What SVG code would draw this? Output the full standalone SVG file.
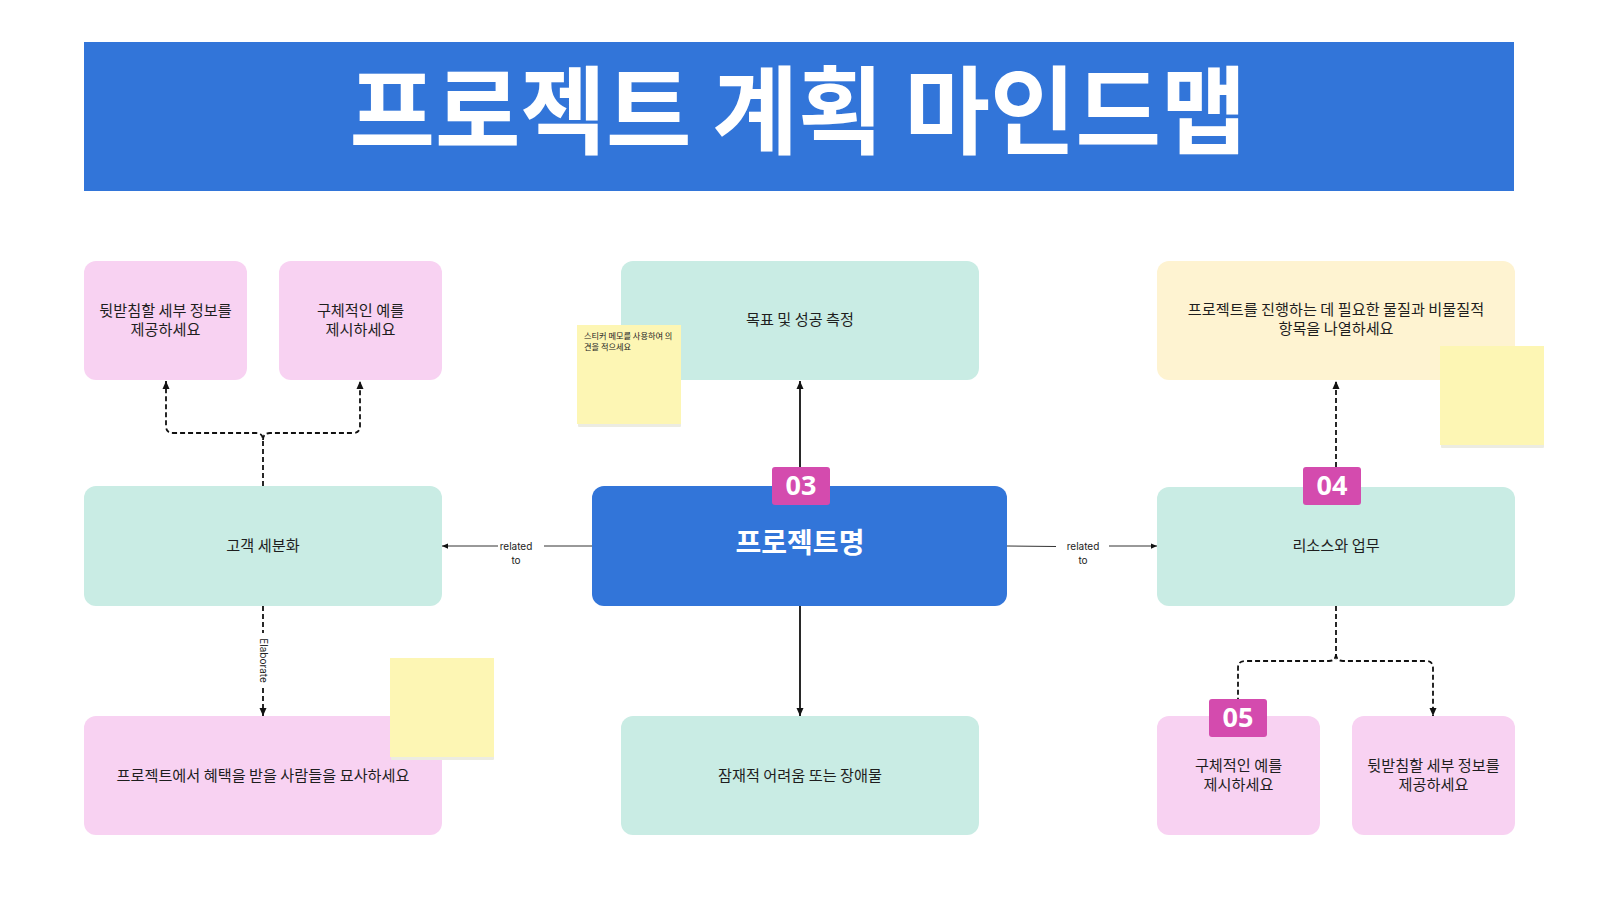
<svg xmlns="http://www.w3.org/2000/svg" width="1600" height="900" viewBox="0 0 1600 900">
<style>
.kr{font-family:"Noto Sans CJK KR","Noto Sans",sans-serif;}
.lbl{font-family:Inter,"Liberation Sans",sans-serif;font-size:10px;fill:#222;text-anchor:middle;}
.nt{font-family:"Noto Sans CJK KR",sans-serif;font-size:15.2px;fill:#1e1e1e;text-anchor:middle;}
.teal{fill:#C9ECE4;}
.pink{fill:#F8D2F2;}
.cream{fill:#FEF3D1;}
.sticky{fill:#FDF6B4;}
.shadow{fill:#ECECE2;}
.badge{fill:#D44BAE;}
.bt{font-family:"Open Sans","Noto Sans",sans-serif;font-weight:700;font-size:27px;fill:#fff;text-anchor:middle;}
.solid{fill:none;stroke:#111;stroke-width:1.8;}
.thin{fill:none;stroke:#333;stroke-width:1;}
.dash{fill:none;stroke:#111;stroke-width:1.8;stroke-dasharray:5 3;}
</style>
<defs>
<marker id="ah" viewBox="0 0 8 8" refX="8" refY="4" markerWidth="8" markerHeight="8" markerUnits="userSpaceOnUse" orient="auto">
<path d="M0,0.5 L8,4 L0,7.5 Z" fill="#111"/>
</marker>
<marker id="ahs" viewBox="0 0 8 8" refX="8" refY="4" markerWidth="6" markerHeight="6" markerUnits="userSpaceOnUse" orient="auto">
<path d="M0,0.5 L8,4 L0,7.5 Z" fill="#111"/>
</marker>
</defs>
<rect width="1600" height="900" fill="#fff"/>

<g id="header">
<rect x="84" y="42" width="1430" height="149" fill="#3275D9"/>
<text x="798" y="146" class="kr" font-size="96" font-weight="700" fill="#fff" text-anchor="middle" textLength="897" lengthAdjust="spacingAndGlyphs">프로젝트 계획 마인드맵</text>
</g>

<g id="connectors">
<path class="dash" d="M263,486 V440 Q263,433 256,433 H173 Q166,433 166,426 V381" marker-end="url(#ah)"/>
<path class="dash" d="M263,440 Q263,433 270,433 H353 Q360,433 360,426 V381" marker-end="url(#ah)"/>
<path class="dash" d="M263,606 V633"/>
<path class="dash" d="M263,688 V716" marker-end="url(#ah)"/>
<path class="solid" d="M800,467 V381" marker-end="url(#ah)"/>
<path class="solid" d="M800,606 V716" marker-end="url(#ah)"/>
<path class="thin" d="M592,546 H544"/>
<path class="thin" d="M498,546 H442" marker-end="url(#ahs)"/>
<path class="thin" d="M1007,546 L1056,546.5"/>
<path class="thin" d="M1109,546 H1157" marker-end="url(#ahs)"/>
<path class="dash" d="M1336,467 V381" marker-end="url(#ah)"/>
<path class="dash" d="M1336,606 V654 Q1336,661 1329,661 H1245 Q1238,661 1238,668 V699"/>
<path class="dash" d="M1336,654 Q1336,661 1343,661 H1426 Q1433,661 1433,668 V716" marker-end="url(#ah)"/>
<text class="lbl" x="516" y="549.5">related</text>
<text class="lbl" x="516" y="563.5">to</text>
<text class="lbl" x="1083" y="549.5">related</text>
<text class="lbl" x="1083" y="563.5">to</text>
<text class="lbl" transform="translate(263,660.5) rotate(90)" y="3.5">Elaborate</text>
</g>

<g id="node-detail-tl">
<rect class="pink" x="84" y="261" width="163" height="119" rx="12"/>
<text class="nt" x="165.5" y="316">뒷받침할 세부 정보를</text>
<text class="nt" x="165.5" y="335">제공하세요</text>
</g>
<g id="node-example-tl">
<rect class="pink" x="279" y="261" width="163" height="119" rx="12"/>
<text class="nt" x="360.5" y="316">구체적인 예를</text>
<text class="nt" x="360.5" y="335">제시하세요</text>
</g>
<g id="node-segment">
<rect class="teal" x="84" y="486" width="358" height="120" rx="12"/>
<text class="nt" x="263" y="551">고객 세분화</text>
</g>
<g id="node-beneficiaries">
<rect class="pink" x="84" y="716" width="358" height="119" rx="12"/>
<text class="nt" x="263" y="781">프로젝트에서 혜택을 받을 사람들을 묘사하세요</text>
</g>
<g id="node-goals">
<rect class="teal" x="621" y="261" width="358" height="119" rx="12"/>
<text class="nt" x="800" y="325">목표 및 성공 측정</text>
</g>
<g id="node-center">
<rect x="592" y="486" width="415" height="120" rx="12" fill="#3275D9"/>
<text class="kr" x="800" y="553" font-size="28" font-weight="700" fill="#fff" text-anchor="middle">프로젝트명</text>
</g>
<g id="badge-03">
<rect class="badge" x="772" y="467" width="58" height="38" rx="3"/>
<text class="bt" x="801" y="494.5">03</text>
</g>
<g id="node-obstacles">
<rect class="teal" x="621" y="716" width="358" height="119" rx="12"/>
<text class="nt" x="800" y="781">잠재적 어려움 또는 장애물</text>
</g>
<g id="node-materials">
<rect class="cream" x="1157" y="261" width="358" height="119" rx="12"/>
<text class="nt" x="1336" y="315">프로젝트를 진행하는 데 필요한 물질과 비물질적</text>
<text class="nt" x="1336" y="334">항목을 나열하세요</text>
</g>
<g id="node-resources">
<rect class="teal" x="1157" y="487" width="358" height="119" rx="12"/>
<text class="nt" x="1336" y="551">리소스와 업무</text>
</g>
<g id="badge-04">
<rect class="badge" x="1303" y="467" width="58" height="38" rx="3"/>
<text class="bt" x="1332" y="494.5">04</text>
</g>
<g id="node-example-br">
<rect class="pink" x="1157" y="716" width="163" height="119" rx="12"/>
<text class="nt" x="1238.5" y="771">구체적인 예를</text>
<text class="nt" x="1238.5" y="790">제시하세요</text>
</g>
<g id="badge-05">
<rect class="badge" x="1209" y="699" width="58" height="38" rx="3"/>
<text class="bt" x="1238" y="726.5">05</text>
</g>
<g id="node-detail-br">
<rect class="pink" x="1352" y="716" width="163" height="119" rx="12"/>
<text class="nt" x="1433.5" y="771">뒷받침할 세부 정보를</text>
<text class="nt" x="1433.5" y="790">제공하세요</text>
</g>

<g id="sticky-center">
<rect class="shadow" x="578" y="326" width="103" height="101" rx="1"/>
<rect class="sticky" x="577" y="325" width="104" height="99"/>
<text class="kr" x="584" y="339" font-size="8.2" fill="#222">스티커 메모를 사용하여 의</text>
<text class="kr" x="584" y="350" font-size="8.2" fill="#222">견을 적으세요</text>
</g>
<g id="sticky-right">
<rect class="shadow" x="1441" y="347" width="103" height="101" rx="1"/>
<rect class="sticky" x="1440" y="346" width="104" height="99"/>
</g>
<g id="sticky-left">
<rect class="shadow" x="391" y="659" width="103" height="101" rx="1"/>
<rect class="sticky" x="390" y="658" width="104" height="99"/>
</g>
</svg>
